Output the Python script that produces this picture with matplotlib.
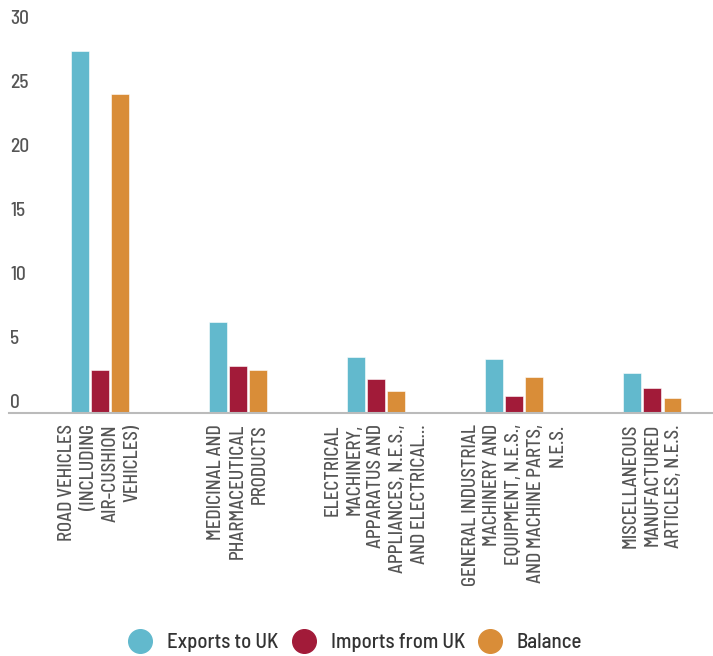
import numpy as np
import matplotlib
matplotlib.use("Agg")
import matplotlib.pyplot as plt
from matplotlib.lines import Line2D
import matplotlib.transforms as mtransforms

# data
categories = [
    "ROAD VEHICLES\n(INCLUDING\nAIR-CUSHION\nVEHICLES)",
    "MEDICINAL AND\nPHARMACEUTICAL\nPRODUCTS",
    "ELECTRICAL\nMACHINERY,\nAPPARATUS AND\nAPPLIANCES, N.E.S.,\nAND ELECTRICAL...",
    "GENERAL INDUSTRIAL\nMACHINERY AND\nEQUIPMENT, N.E.S.,\nAND MACHINE PARTS,\nN.E.S.",
    "MISCELLANEOUS\nMANUFACTURED\nARTICLES, N.E.S.",
]
exports_to_uk = [28.3, 7.1, 4.4, 4.2, 3.1]
imports_from_uk = [3.4, 3.7, 2.65, 1.35, 1.95]
balance = [24.9, 3.4, 1.75, 2.85, 1.15]
series_names = ["Exports to UK", "Imports from UK", "Balance"]
colors = ["#62B9CD", "#A21B39", "#D98D38"]
y_ticks = [0, 5, 10, 15, 20, 25, 30]

text_font = ['Barlow Semi Condensed', 'DejaVu Sans']
plt.rcParams['font.family'] = text_font
plt.rcParams['font.weight'] = 500

fig = plt.figure(figsize=(7.13, 6.56), dpi=100)
ax = fig.add_axes([9 / 713, (656 - 413) / 656, 1 - 9 / 713, (413 - 10) / 656])

x = np.arange(len(categories))
step = 0.145
width = 0.127
for i, (vals, col) in enumerate(zip([exports_to_uk, imports_from_uk, balance], colors)):
    ax.bar(x + (i - 1) * step, vals, width, color=col, edgecolor="white", linewidth=0.4)

ax.set_xlim(-0.66, 4.44)
ax.set_ylim(0, 31.5)

for s in ["left", "right", "top"]:
    ax.spines[s].set_visible(False)
ax.spines["bottom"].set_color("#bbbbbb")
ax.spines["bottom"].set_linewidth(1.5)

ax.set_yticks([])
ax.set_xticks(x)
ax.set_xticklabels(categories, rotation=90, ha="center", va="top",
                   multialignment="right", fontsize=13.5, color="#555555",
                   linespacing=1.27)
ax.tick_params(axis="x", length=0, pad=8)

# y labels sit just above their values, left aligned inside the plot
trans = mtransforms.blended_transform_factory(ax.transAxes, ax.transData)
off = mtransforms.offset_copy(trans, fig=fig, x=1, y=1, units="dots")
for t in y_ticks:
    ax.text(0, t, str(t), transform=off, ha="left", va="bottom",
            fontsize=14, color="#555555")

handles = [Line2D([], [], marker="o", linestyle="none", markersize=17,
                  markerfacecolor=c, markeredgecolor=c) for c in colors]
fig.legend(handles, series_names, loc="center", bbox_to_anchor=(355 / 713, 1 - 643 / 656),
           ncol=3, frameon=False, fontsize=15, handlelength=1.2, handletextpad=0.7,
           columnspacing=0.6, labelcolor="#333333")

fig.savefig("out.png", dpi=100)
